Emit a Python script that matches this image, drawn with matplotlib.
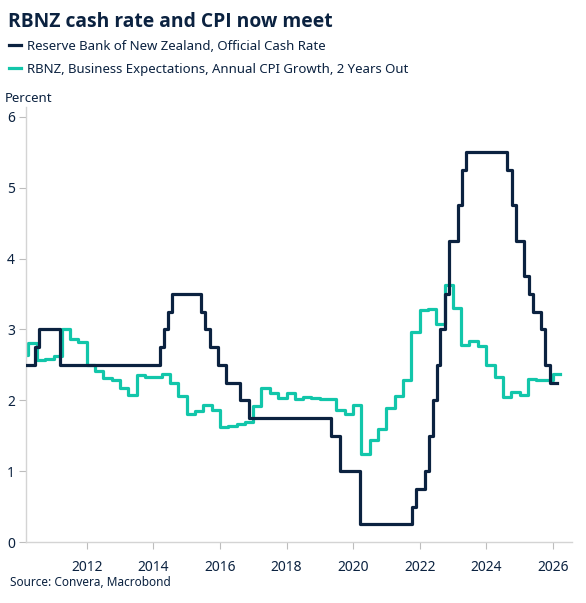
import numpy as np
import pandas as pd
import matplotlib
matplotlib.use('Agg')
import matplotlib.pyplot as plt

plt.rcParams['font.family'] = ['Noto Sans', 'DejaVu Sans']

# RBNZ Official Cash Rate, change dates and new levels
ocr_dates = ['2010-03-10', '2010-06-10', '2010-07-29', '2011-03-17', '2014-03-13',
             '2014-04-24', '2014-06-12', '2014-07-24', '2015-06-11', '2015-07-23',
             '2015-09-10', '2015-12-10', '2016-03-10', '2016-08-11', '2016-11-10',
             '2019-05-08', '2019-08-07', '2020-03-16', '2021-10-06', '2021-11-24',
             '2022-02-23', '2022-04-13', '2022-05-25', '2022-07-13', '2022-08-17',
             '2022-10-05', '2022-11-23', '2023-02-22', '2023-04-05', '2023-05-24',
             '2024-08-14', '2024-10-09', '2024-11-27', '2025-02-19', '2025-04-09',
             '2025-05-28', '2025-08-20', '2025-10-08', '2025-11-26', '2026-02-10']
ocr_values = [2.50, 2.75, 3.00, 2.50, 2.75,
              3.00, 3.25, 3.50, 3.25, 3.00,
              2.75, 2.50, 2.25, 2.00, 1.75,
              1.50, 1.00, 0.25, 0.50, 0.75,
              1.00, 1.50, 2.00, 2.50, 3.00,
              3.50, 4.25, 4.75, 5.25, 5.50,
              5.25, 4.75, 4.25, 3.75, 3.50,
              3.25, 3.00, 2.50, 2.25, 2.25]

# Business expectations, annual CPI growth 2 years out (quarterly)
cpi_dates = ['2010-03-20'] + list(pd.date_range('2010-04-01', '2026-01-01', freq='QS').strftime('%Y-%m-%d')) + ['2026-03-20']
cpi_values = [2.64,
              2.81, 2.57, 2.59,
              2.63, 3.00, 2.86, 2.82,
              2.50, 2.42, 2.32, 2.28,
              2.17, 2.07, 2.36, 2.33,
              2.33, 2.37, 2.24, 2.06,
              1.81, 1.85, 1.94, 1.86,
              1.63, 1.64, 1.66, 1.70,
              1.92, 2.17, 2.10, 2.03,
              2.10, 2.02, 2.04, 2.03,
              2.02, 2.02, 1.86, 1.81,
              1.93, 1.24, 1.44, 1.59,
              1.89, 2.06, 2.28, 2.97,
              3.27, 3.29, 3.08, 3.63,
              3.30, 2.78, 2.84, 2.76,
              2.50, 2.33, 2.04, 2.12,
              2.07, 2.30, 2.29, 2.28,
              2.37, 2.37]

years = [2012, 2014, 2016, 2018, 2020, 2022, 2024, 2026]
yticks = [0, 1, 2, 3, 4, 5, 6]

navy = '#0b2240'
teal = '#12c6aa'
grey = '#d4d4d4'

fig = plt.figure(figsize=(5.86, 6.03), dpi=100)
ax = fig.add_axes([26/586, 1 - 542/603, (572 - 26)/586, (542 - 107)/603])

ax.step(pd.to_datetime(cpi_dates), cpi_values, where='post', color=teal, lw=2.3,
        label='RBNZ, Business Expectations, Annual CPI Growth, 2 Years Out', zorder=2)
ax.step(pd.to_datetime(ocr_dates), ocr_values, where='post', color=navy, lw=2.3,
        label='Reserve Bank of New Zealand, Official Cash Rate', zorder=3)

ax.set_xlim(pd.Timestamp('2010-03-05'), pd.Timestamp('2026-07-30'))
ax.set_ylim(0, 6.14)
ax.set_xticks([pd.Timestamp(f'{y}-01-01') for y in years])
ax.set_xticklabels([str(y) for y in years])
ax.set_yticks(yticks)
ax.set_yticklabels([str(v) for v in yticks])

for s in ['top', 'right']:
    ax.spines[s].set_visible(False)
for s in ['left', 'bottom']:
    ax.spines[s].set_color(grey)
    ax.spines[s].set_linewidth(1)
ax.tick_params(axis='both', direction='out', length=5, color='#bdbdbd',
               labelcolor=navy, labelsize=10)
ax.tick_params(axis='x', pad=8)
ax.tick_params(axis='y', pad=3)

fig.text(8/586, 1 - 22/603, 'RBNZ cash rate and CPI now meet', fontsize=13.9,
         fontweight='bold', family=['Open Sans', 'Roboto', 'DejaVu Sans'],
         color=navy, va='center', ha='left')

h, l = ax.get_legend_handles_labels()
fig.legend(h[::-1], l[::-1], loc='upper left', bbox_to_anchor=(5/586, 1 - 36/603),
           frameon=False, fontsize=9.5, handlelength=0.9, handletextpad=0.5,
           labelspacing=0.75, borderaxespad=0, borderpad=0.3, labelcolor=navy)

fig.text(5/586, 1 - 98/603, 'Percent', fontsize=9.5, color=navy, va='center', ha='left')
fig.text(10/586, 1 - 583/603, 'Source: Convera, Macrobond', fontsize=8.5, color=navy,
         va='center', ha='left')

fig.savefig('out.png', dpi=100)
